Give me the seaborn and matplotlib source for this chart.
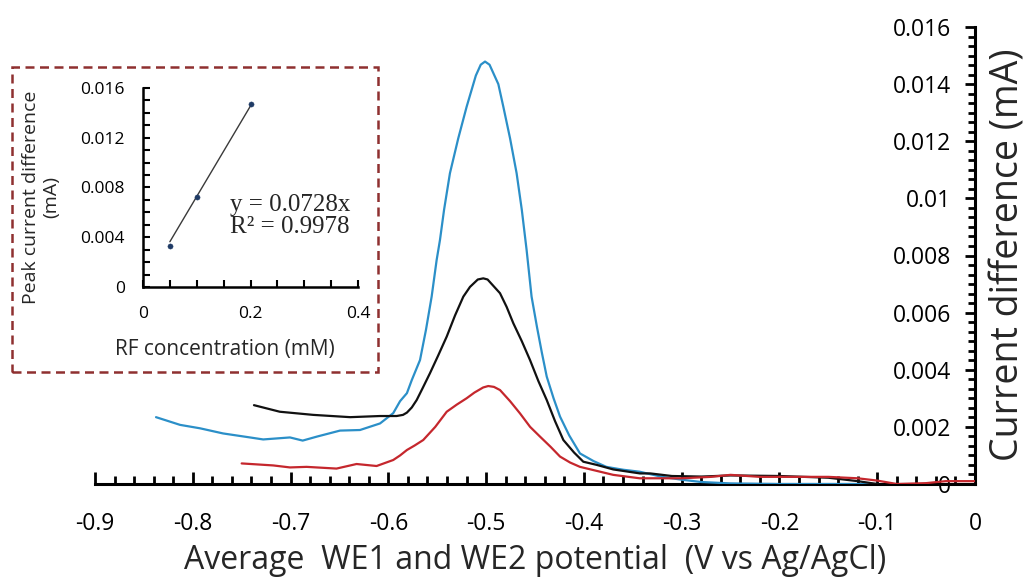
import numpy as np
import pandas as pd
import matplotlib
matplotlib.use("Agg")
import matplotlib.pyplot as plt
import matplotlib.patches as patches
from matplotlib.ticker import AutoMinorLocator, FixedLocator
import seaborn as sns

# ---------------- data ----------------
blue_x = [-0.8376, -0.813, -0.7926, -0.769, -0.7415, -0.728, -0.7006, -0.6876, -0.673,
          -0.6494, -0.629, -0.6085, -0.595, -0.588, -0.581, -0.576, -0.5676, -0.5615, -0.5557,
          -0.5506, -0.5472, -0.543, -0.537, -0.5285, -0.5199, -0.5105, -0.5055, -0.5011,
          -0.4965, -0.4875, -0.4824, -0.4755, -0.4688, -0.4635, -0.4586, -0.4535, -0.448,
          -0.443, -0.438, -0.431, -0.4244, -0.415, -0.404, -0.39, -0.377, -0.36, -0.343,
          -0.32, -0.30, -0.28, -0.25, -0.20, -0.15, -0.10]
blue_y = [0.00234, 0.00207, 0.00195, 0.00177, 0.00163, 0.00156, 0.00163, 0.00152, 0.00166,
          0.00187, 0.00189, 0.00212, 0.00248, 0.00290, 0.00318, 0.00364, 0.00434, 0.00540, 0.00656,
          0.00784, 0.00854, 0.00960, 0.01088, 0.01210, 0.01321, 0.01430, 0.01468, 0.01479,
          0.01468, 0.01400, 0.01321, 0.01210, 0.01088, 0.00960, 0.00820, 0.00656, 0.00550,
          0.00460, 0.00376, 0.00300, 0.00236, 0.00170, 0.00107, 0.00080, 0.00060, 0.00050, 0.00043,
          0.00025, 0.00015, 0.00007, 0.00002, 0.0, 0.0, 0.0]

black_x = [-0.7374, -0.711, -0.6768, -0.639, -0.6085, -0.5915, -0.585, -0.581, -0.576, -0.571,
           -0.565, -0.5574, -0.549, -0.5403, -0.5318, -0.5233, -0.5165, -0.5085, -0.5029,
           -0.4985, -0.4858, -0.479, -0.4722, -0.4635, -0.4551, -0.4465, -0.438, -0.4295,
           -0.421, -0.41, -0.4006, -0.387, -0.37, -0.3426, -0.332, -0.31, -0.28, -0.25,
           -0.20, -0.15, -0.12, -0.10]
black_y = [0.00276, 0.00253, 0.00242, 0.00234, 0.00238, 0.00238, 0.00242, 0.00250, 0.00268, 0.00294,
           0.00335, 0.00388, 0.00450, 0.00516, 0.00590, 0.00656, 0.00690, 0.00716, 0.00720,
           0.00716, 0.00668, 0.00620, 0.00563, 0.00500, 0.00434, 0.00360, 0.00294, 0.00220,
           0.00154, 0.00110, 0.00078, 0.00067, 0.00051, 0.00037, 0.00037, 0.00028, 0.00026,
           0.00030, 0.00028, 0.00022, 0.00010, 0.0]

red_x = [-0.75, -0.7177, -0.7006, -0.6836, -0.653, -0.6325, -0.612, -0.595, -0.588, -0.581,
         -0.573, -0.5643, -0.552, -0.5403, -0.53, -0.52, -0.512, -0.503, -0.4978, -0.492,
         -0.4858, -0.4755, -0.4653, -0.455, -0.4449, -0.434, -0.4244, -0.414, -0.404, -0.37,
         -0.343, -0.30, -0.27, -0.25, -0.22, -0.15, -0.12, -0.10, -0.08, -0.05, -0.03, 0.0]
red_y = [0.00072, 0.00065, 0.00058, 0.00060, 0.00054, 0.00070, 0.00063, 0.00084, 0.00100, 0.00119,
         0.00135, 0.00154, 0.00200, 0.00253, 0.00278, 0.00300, 0.00320, 0.00338, 0.00343, 0.00340,
         0.00329, 0.00290, 0.00247, 0.00200, 0.00166, 0.00130, 0.00096, 0.00075, 0.00060, 0.00032,
         0.00020, 0.00020, 0.00025, 0.00032, 0.00025, 0.00025, 0.00020, 0.00012, 0.0, 0.00003,
         0.00010, 0.00010]

main_xticks = [-0.9, -0.8, -0.7, -0.6, -0.5, -0.4, -0.3, -0.2, -0.1, 0.0]
main_xticklabels = ["-0.9", "-0.8", "-0.7", "-0.6", "-0.5", "-0.4", "-0.3", "-0.2", "-0.1", "0"]
main_yticks = [0, 0.002, 0.004, 0.006, 0.008, 0.010, 0.012, 0.014, 0.016]
main_yticklabels = ["0", "0.002", "0.004", "0.006", "0.008", "0.01", "0.012", "0.014", "0.016"]

inset_conc = [0.05, 0.1, 0.2]
inset_peak = [0.0033, 0.0072, 0.0147]
inset_slope = 0.0728
inset_r2 = 0.9978
inset_xticks = [0, 0.2, 0.4]
inset_xticklabels = ["0", "0.2", "0.4"]
inset_yticks = [0, 0.004, 0.008, 0.012, 0.016]
inset_yticklabels = ["0", "0.004", "0.008", "0.012", "0.016"]

# ---------------- style ----------------
sns.set_style("white")
plt.rcParams["font.family"] = ["Open Sans", "DejaVu Sans"]
plt.rcParams["lines.solid_joinstyle"] = "round"

fig = plt.figure(figsize=(10.32, 5.8), dpi=100)
ax = fig.add_axes([95 / 1032, 1 - 484 / 580, 880 / 1032, 457 / 580])

df = pd.concat([
    pd.DataFrame({"E": blue_x, "I": blue_y, "s": "blue"}),
    pd.DataFrame({"E": black_x, "I": black_y, "s": "black"}),
    pd.DataFrame({"E": red_x, "I": red_y, "s": "red"}),
], ignore_index=True)
palette = {"blue": "#2b8fc8", "black": "#111111", "red": "#c5272d"}
sns.lineplot(data=df, x="E", y="I", hue="s", palette=palette, sort=False,
             estimator=None, legend=False, lw=1.6, ax=ax, zorder=3)

ax.set_xlim(-0.9, 0)
ax.set_ylim(0, 0.016)
ax.spines["top"].set_visible(False)
ax.spines["right"].set_visible(False)
ax.spines["left"].set_position(("data", 0))
for sp in ("left", "bottom"):
    ax.spines[sp].set_linewidth(2.2)
    ax.spines[sp].set_color("black")
ax.xaxis.set_major_locator(FixedLocator(main_xticks))
ax.set_xticklabels(main_xticklabels)
ax.xaxis.set_minor_locator(AutoMinorLocator(5))
ax.yaxis.set_major_locator(FixedLocator(main_yticks))
ax.set_yticklabels(main_yticklabels)
ax.yaxis.set_minor_locator(AutoMinorLocator(6))
ax.tick_params(axis="x", which="both", direction="in", bottom=True, pad=20,
               labelsize=16.5, colors="black", width=2)
ax.tick_params(axis="x", which="major", length=9)
ax.tick_params(axis="x", which="minor", length=6)
ax.tick_params(axis="y", which="both", direction="out", left=True, pad=10,
               labelsize=16.5, colors="black", width=2)
ax.tick_params(axis="y", which="major", length=7)
ax.tick_params(axis="y", which="minor", length=5)
ax.set_xlabel("Average  WE1 and WE2 potential  (V vs Ag/AgCl)", fontsize=23, labelpad=6)
ax.set_ylabel("")
fig.text(1008 / 1032, 1 - 255 / 580, "Current difference (mA)", rotation=90,
         fontsize=27, ha="center", va="center")
ax.grid(False)

# ---------------- inset ----------------
axi = fig.add_axes([143 / 1032, 1 - 287 / 580, 215 / 1032, 199 / 580])
fit_x = [inset_conc[0], inset_conc[-1]]
fit_y = [inset_slope * v for v in fit_x]
sns.lineplot(x=fit_x, y=fit_y, color="#3a3a3a", lw=1.0, ax=axi)
sns.scatterplot(x=inset_conc, y=inset_peak, color="#1f3b66", s=14, edgecolor="#1f3b66",
                ax=axi, zorder=4)
axi.set_xlim(0, 0.4)
axi.set_ylim(0, 0.016)
axi.spines["top"].set_visible(False)
axi.spines["right"].set_visible(False)
for sp in ("left", "bottom"):
    axi.spines[sp].set_linewidth(1.8)
    axi.spines[sp].set_color("black")
axi.xaxis.set_major_locator(FixedLocator(inset_xticks))
axi.set_xticklabels(inset_xticklabels)
axi.xaxis.set_minor_locator(AutoMinorLocator(4))
axi.yaxis.set_major_locator(FixedLocator(inset_yticks))
axi.set_yticklabels(inset_yticklabels)
axi.yaxis.set_minor_locator(AutoMinorLocator(4))
axi.tick_params(which="both", direction="in", bottom=True, left=True, width=1.5,
                labelsize=12.5, colors="black", length=5)
axi.tick_params(axis="x", which="both", pad=14)
axi.tick_params(axis="y", which="both", pad=13)
axi.set_xlabel("RF concentration (mM)", fontsize=15)
axi.set_ylabel("Peak current difference\n(mA)", fontsize=14, linespacing=1.15)
axi.xaxis.set_label_coords((225 - 143) / 215, -(350 - 287) / 199)
axi.yaxis.set_label_coords(-(143 - 41) / 215, (287 - 197) / 199)
axi.xaxis.label.set_va("center")
axi.yaxis.label.set_va("center")
axi.text(0.162, 0.0057, f"y = {inset_slope}x\nR² = {inset_r2}", fontsize=18,
         family=["Liberation Serif", "DejaVu Serif"], ha="left", va="center", linespacing=1.0)
axi.grid(False)
axi.set_facecolor("none")

rect = patches.Rectangle((12 / 1032, 1 - 372 / 580), 366 / 1032, 305 / 580,
                         transform=fig.transFigure, fill=False, lw=1.8,
                         ls=(0, (3.6, 2.2)), edgecolor="#8f3030")
fig.patches.append(rect)

fig.savefig("out.png", dpi=100)
